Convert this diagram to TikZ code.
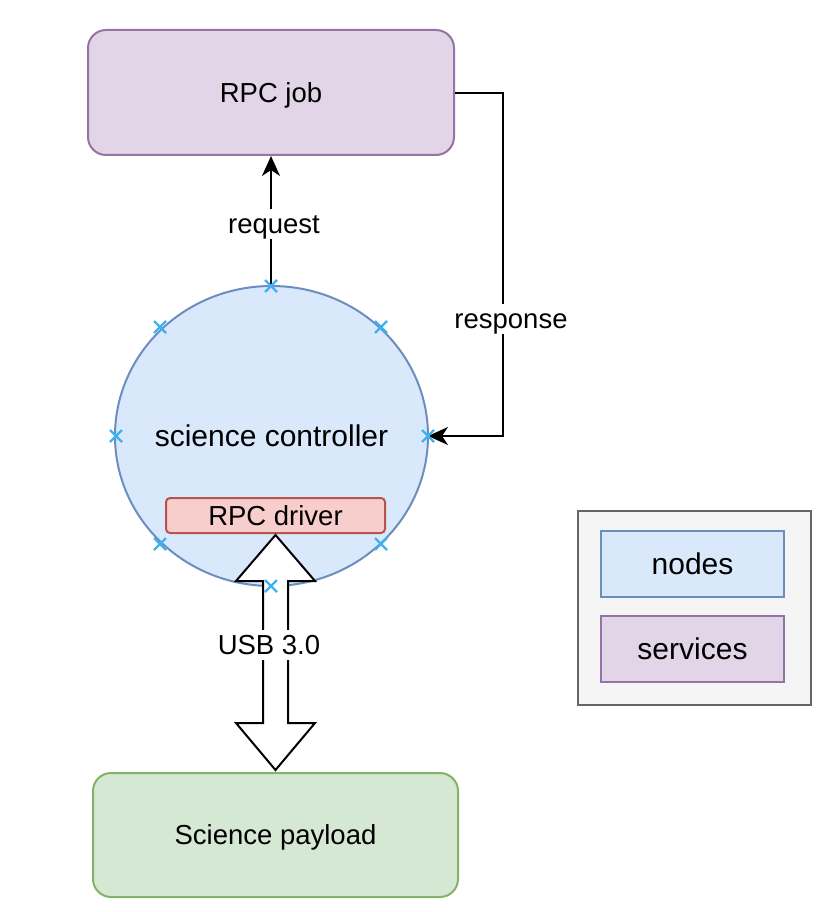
\documentclass[tikz,border=0pt]{standalone}
\usepackage{fontspec}
\setmainfont{Liberation Sans}
\usetikzlibrary{arrows.meta,shapes.geometric,calc}
\definecolor{purpleF}{HTML}{E1D5E7}
\definecolor{purpleD}{HTML}{9673A6}
\definecolor{blueF}{HTML}{DAE8FC}
\definecolor{blueD}{HTML}{6C8EBF}
\definecolor{redF}{HTML}{F8CECC}
\definecolor{redD}{HTML}{B85450}
\definecolor{greenF}{HTML}{D5E8D4}
\definecolor{greenD}{HTML}{82B366}
\definecolor{grayF}{HTML}{F5F5F5}
\definecolor{grayD}{HTML}{666666}
\definecolor{crossC}{HTML}{3FB0F0}
\tikzset{
  txt/.style={font=\fontsize{27.5}{33}\selectfont,text height=19.7pt,text depth=0pt},
  bigtxt/.style={font=\fontsize{30}{36}\selectfont,text height=21.5pt,text depth=0pt},
  svc/.style={draw=purpleD,fill=purpleF,line width=2pt,rounded corners=18pt,txt},
  pay/.style={draw=greenD,fill=greenF,line width=2pt,rounded corners=18pt,txt},
  legbox/.style={line width=2pt,bigtxt,inner sep=0pt},
  lbl/.style={fill=white,inner xsep=2pt,inner ysep=5pt,txt},
  conn/.style={line width=2pt,-{Stealth[length=20pt,width=18pt,inset=6pt]}},
  xmark/.style={draw=crossC,line width=2.2pt}
}
\newcommand{\xcross}[1]{\draw[xmark] ($(#1)+(-6,-6)$) -- ($(#1)+(6,6)$) ($(#1)+(-6,6)$) -- ($(#1)+(6,-6)$);}
\begin{document}
\begin{tikzpicture}[x=1pt,y=-1pt]
\useasboundingbox (0,0) rectangle (832,912);
% RPC job
\node[svc,minimum width=366pt,minimum height=125pt,inner sep=0pt] (job) at (271,92.5) {RPC job};
% science controller
\node[ellipse,draw=blueD,fill=blueF,line width=2pt,minimum width=313pt,minimum height=300pt,inner sep=0pt] (sc) at (271.5,436) {};
\node[bigtxt,inner sep=0pt] (sclbl) at (271.5,436) {science controller};
% RPC driver
\node[draw=redD,fill=redF,line width=2pt,rounded corners=4pt,minimum width=219pt,minimum height=35pt,inner sep=0pt,txt] (drv) at (275.5,515.5) {RPC driver};
% Science payload
\node[pay,minimum width=365pt,minimum height=124pt,inner sep=0pt] (payload) at (275.5,835) {Science payload};
% connection points
\coordinate (ptop) at (271,286);
\coordinate (pright) at (428,436);
% request
\draw[conn] (ptop) -- (job.south -| ptop);
\node[lbl] (req) at (274,224) {request};
% response
\coordinate (r1) at (503,93);
\coordinate (r2) at (503,436);
\draw[conn] (job.east |- r1) -- (r1) -- (r2) -- (pright);
\node[lbl] (resp) at (511,319) {response};
% USB block arrow
\draw[line width=2pt,fill=white,line join=miter]
  (275.5,535) -- (315,581) -- (288,581) -- (288,723) -- (315,723) -- (275.5,770)
  -- (236,723) -- (263,723) -- (263,581) -- (236,581) -- cycle;
\node[lbl] (usb) at (269,645) {USB 3.0};
% crosses
\xcross{271,286}
\xcross{160,327}
\xcross{381,327}
\xcross{116,436}
\xcross{428,436}
\xcross{160,544}
\xcross{381,544}
\xcross{271,586}
% legend
\node[draw=grayD,fill=grayF,line width=2pt,minimum width=233pt,minimum height=194pt,inner sep=0pt] (legend) at (694.5,608) {};
\node[legbox,draw=blueD,fill=blueF,minimum width=183pt,minimum height=66pt] (lnodes) at (692.5,564) {nodes};
\node[legbox,draw=purpleD,fill=purpleF,minimum width=183pt,minimum height=66pt] (lsvc) at (692.5,649) {services};
\end{tikzpicture}
\end{document}
